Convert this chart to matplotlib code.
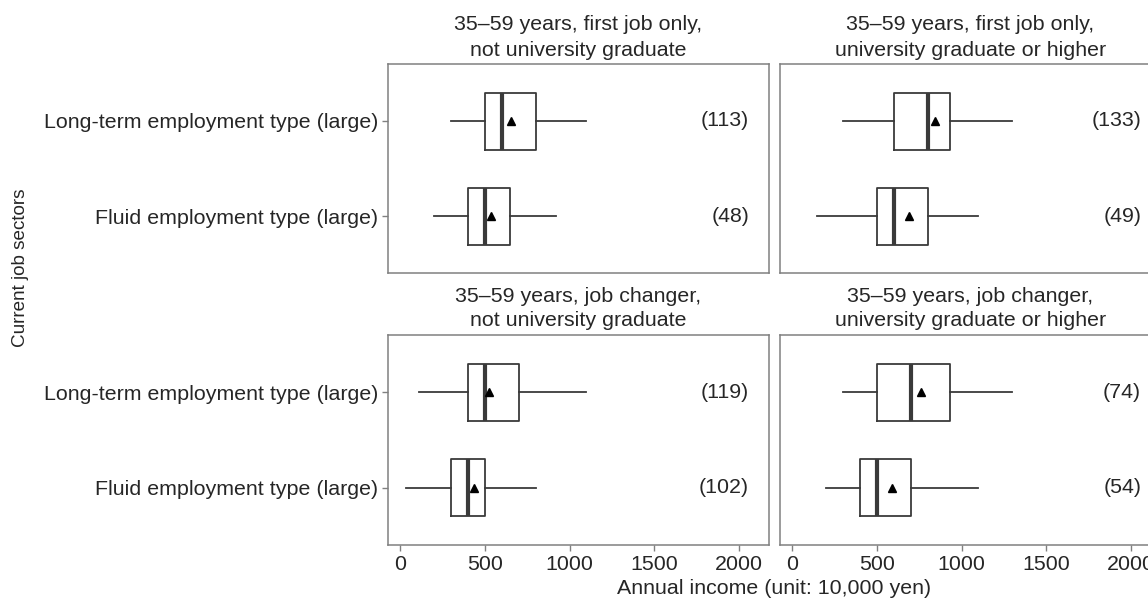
import matplotlib
matplotlib.use("Agg")
import matplotlib.pyplot as plt

plt.rcParams['font.family'] = ['Liberation Sans', 'DejaVu Sans']

# Panel titles, two lines each (row-major: top-left, top-right, bottom-left, bottom-right)
panel_titles = [
    ("35\u201359 years, first job only,", "not university graduate"),
    ("35\u201359 years, first job only,", "university graduate or higher"),
    ("35\u201359 years, job changer,", "not university graduate"),
    ("35\u201359 years, job changer,", "university graduate or higher"),
]

# Job sectors, bottom to top
sectors = ["Fluid employment type (large)", "Long-term employment type (large)"]

# Box statistics per panel, ordered as sectors: [Fluid, Long-term]
whisker_low = [[200, 300], [150, 300], [35, 110], [200, 300]]
q1 = [[400, 500], [500, 600], [300, 400], [400, 500]]
median = [[500, 600], [600, 800], [400, 500], [500, 700]]
q3 = [[650, 800], [800, 930], [500, 700], [700, 930]]
whisker_high = [[920, 1100], [1100, 1300], [800, 1100], [1100, 1300]]
mean = [[535, 655], [690, 845], [438, 522], [592, 761]]
counts = [[48, 113], [49, 133], [102, 119], [54, 74]]

x_ticks = [0, 500, 1000, 1500, 2000]

W, H = 1148, 598
fig = plt.figure(figsize=(W / 100, H / 100), dpi=100)

# Panel rectangles in pixels: (left, top, right, bottom)
rects = [(388, 64, 769, 273), (780, 64, 1161, 273),
         (388, 335, 769, 545), (780, 335, 1161, 545)]

text_col = "#262626"
line_col = "#3a3a3a"
frame_col = "#808080"
fs = 15.4

axes = []
for i, (l, t, r, b) in enumerate(rects):
    ax = fig.add_axes([l / W, (H - b) / H, (r - l) / W, (b - t) / H])
    axes.append(ax)
    stats = []
    for j in range(2):
        stats.append(dict(
            whislo=whisker_low[i][j], q1=q1[i][j], med=median[i][j],
            q3=q3[i][j], whishi=whisker_high[i][j], mean=mean[i][j],
            fliers=[],
        ))
    ax.bxp(stats, positions=[1, 2], widths=0.6, orientation='horizontal',
           showcaps=False, showmeans=True, showfliers=False,
           boxprops=dict(color=line_col, linewidth=1.3),
           whiskerprops=dict(color=line_col, linewidth=1.3),
           medianprops=dict(color=line_col, linewidth=3.0, solid_capstyle='butt'),
           meanprops=dict(marker='^', markerfacecolor='black',
                          markeredgecolor='black', markersize=6))
    for j in range(2):
        ax.text(2060, j + 1, f"({counts[i][j]})", ha='right', va='center',
                fontsize=fs, color=text_col)
    ax.set_xlim(-71, 2177)
    ax.set_ylim(0.4, 2.6)
    ax.set_xticks(x_ticks)
    ax.set_yticks([1, 2])
    if i % 2 == 0:
        ax.set_yticklabels(sectors)
    else:
        ax.set_yticklabels([])
    ax.tick_params(labelsize=fs, colors=frame_col, labelcolor=text_col,
                   length=4, width=1, pad=3)
    if i % 2 == 1:
        ax.tick_params(axis='y', length=0)
    if i < 2:
        ax.set_xticklabels([])
        ax.tick_params(axis='x', length=0)
    for s in ax.spines.values():
        s.set_color(frame_col)
        s.set_linewidth(1.1)

    # two-line strip title above each panel, baselines in pixels
    cx = (l + r) / 2 / W
    line1, line2 = panel_titles[i]
    fig.text(cx, 1 - (t - 33.5) / H, line1, ha='center', va='baseline',
             fontsize=fs, color=text_col)
    fig.text(cx, 1 - (t - 8.5) / H, line2, ha='center', va='baseline',
             fontsize=fs, color=text_col)

fig.text(21 / W, 1 - 268 / H, "Current job sectors", rotation=90,
         ha='center', va='center', fontsize=13.6, color=text_col)
fig.text(774 / W, 1 - 588 / H, "Annual income (unit: 10,000 yen)",
         ha='center', va='center', fontsize=fs, color=text_col)

fig.savefig("out.png", dpi=100, facecolor='white')
